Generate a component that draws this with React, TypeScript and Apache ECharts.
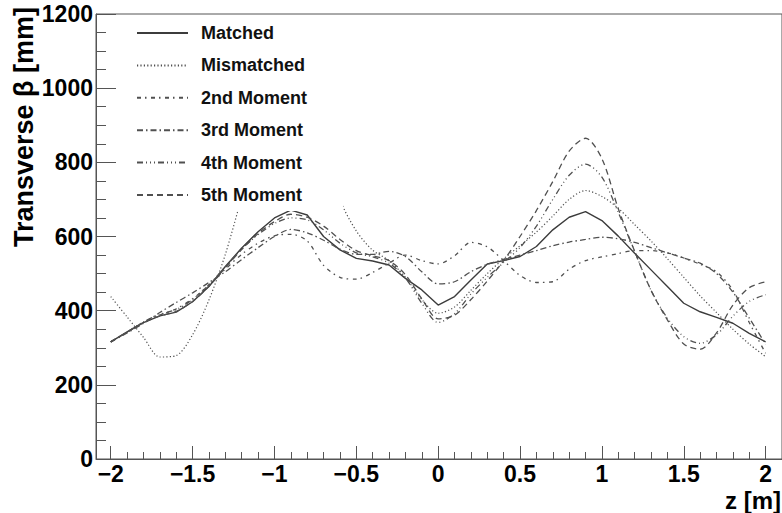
import React, { useEffect, useRef } from "react";
import * as echarts from "echarts";

const zValues = [
  -2.0, -1.9, -1.8, -1.7, -1.6, -1.5, -1.4, -1.3, -1.2, -1.1, -1.0, -0.9, -0.8, -0.7, -0.6, -0.5, -0.4, -0.3, -0.2, -0.1,
  0.0, 0.1, 0.2, 0.3, 0.4, 0.5, 0.6, 0.7, 0.8, 0.9, 1.0, 1.1, 1.2, 1.3, 1.4, 1.5, 1.6, 1.7, 1.8, 1.9, 2.0,
];

const matched = [
  316, 343, 368, 386, 396, 424, 465, 519, 569, 613, 650, 671, 658, 600, 564, 541, 534, 523, 487, 456,
  415, 438, 483, 526, 535, 546, 573, 618, 652, 667, 643, 601, 555, 510, 465, 420, 397, 382, 366, 339, 316,
];

const mismatched = [
  438, 383, 328, 275, 279, 335, 429, 552, 705, 850, 945, 985, 955, 860, 700, 615, 563, 535, 490, 430,
  393, 410, 455, 500, 540, 575, 612, 655, 700, 724, 708, 676, 632, 588, 540, 490, 440, 395, 350, 310, 276,
];

const moment2 = [
  316, 342, 368, 388, 405, 432, 470, 512, 552, 582, 602, 606, 588, 522, 490, 485, 503, 528, 550, 535,
  526, 548, 584, 572, 535, 495, 476, 478, 512, 535, 545, 554, 562, 562, 556, 542, 525, 505, 455, 368, 285,
];

const moment3 = [
  316, 340, 366, 395, 422, 448, 476, 505, 538, 570, 600, 619, 610, 590, 566, 552, 552, 560, 546, 505,
  472, 478, 505, 525, 538, 550, 562, 575, 585, 592, 598, 594, 584, 570, 556, 542, 528, 500, 450, 380, 310,
];

const moment4 = [
  316, 342, 370, 390, 403, 430, 470, 518, 566, 605, 635, 650, 645, 618, 582, 556, 545, 528, 488, 420,
  368, 392, 445, 490, 530, 570, 628, 700, 765, 795, 760, 665, 560, 455, 380, 330, 312, 335, 385, 425, 443,
];

const moment5 = [
  316, 342, 368, 386, 398, 425, 466, 516, 565, 608, 640, 660, 652, 628, 592, 562, 548, 535, 497, 432,
  378, 388, 430, 480, 535, 600, 670, 748, 830, 865, 810, 675, 560, 455, 375, 310, 296, 340, 415, 462, 478,
];

const seriesNames = ["Matched", "Mismatched", "2nd Moment", "3rd Moment", "4th Moment", "5th Moment"];
const majorX = [-2, -1.5, -1, -0.5, 0, 0.5, 1, 1.5, 2];
const minorX = [
  -2.0, -1.9, -1.8, -1.7, -1.6, -1.5, -1.4, -1.3, -1.2, -1.1, -1.0, -0.9, -0.8, -0.7, -0.6, -0.5, -0.4, -0.3, -0.2, -0.1,
  0.0, 0.1, 0.2, 0.3, 0.4, 0.5, 0.6, 0.7, 0.8, 0.9, 1.0, 1.1, 1.2, 1.3, 1.4, 1.5, 1.6, 1.7, 1.8, 1.9, 2.0,
];

const FONT = "'Liberation Sans', Arial, Helvetica, sans-serif";
const AXIS_COLOR = "#555";
const LINE_COLOR = "#505050";

function pairs(ys: number[]) {
  return zValues.map((z, i) => [z, ys[i]]);
}

export default function App() {
  const ref = useRef<HTMLDivElement>(null);
  useEffect(() => {
    if (!ref.current) return;
    const chart = echarts.init(ref.current, null, { renderer: "svg" });
    const fmt = (v: number) => (v < 0 ? "\u2212" + String(Math.abs(v)) : String(v));
    const mk = (name: string, ys: number[], type: any, width: number, color: string, smooth: any) => ({
      name,
      type: "line",
      data: pairs(ys),
      symbol: "none",
      smooth,
      lineStyle: { type, width, color },
      itemStyle: { color },
    });
    chart.setOption({
      animation: false,
      backgroundColor: "#fff",
      grid: {
        left: 96,
        top: 14,
        width: 689,
        height: 445,
        show: true,
        borderColor: AXIS_COLOR,
        borderWidth: 1,
        backgroundColor: "transparent",
      },
      legend: {
        orient: "vertical",
        left: 120,
        top: 15,
        data: seriesNames,
        itemWidth: 51,
        itemHeight: 16,
        itemGap: 14.4,
        backgroundColor: "#fff",
        padding: [9, 36, 7, 16],
        itemStyle: { opacity: 0 },
        textStyle: {
          fontFamily: FONT,
          fontWeight: "bold",
          fontSize: 18,
          color: "#111",
          lineHeight: 16,
          padding: [0, 0, 0, 8],
        },
      },
      xAxis: [
        {
          type: "value",
          min: -2.09,
          max: 2.1,
          position: "bottom",
          axisLine: { show: true, onZero: false, lineStyle: { color: AXIS_COLOR, width: 1 } },
          axisTick: { show: true, inside: true, length: 13, customValues: majorX, lineStyle: { color: AXIS_COLOR } },
          axisLabel: {
            show: true,
            customValues: majorX,
            formatter: fmt,
            margin: 3,
            fontFamily: FONT,
            fontWeight: "bold",
            fontSize: 23,
            color: "#000",
          },
          splitLine: { show: false },
        },
        {
          type: "value",
          min: -2.09,
          max: 2.1,
          position: "bottom",
          axisLine: { show: false, onZero: false },
          axisTick: { show: true, inside: true, length: 7, customValues: minorX, lineStyle: { color: AXIS_COLOR } },
          axisLabel: { show: false },
          splitLine: { show: false },
        },
      ],
      yAxis: {
        type: "value",
        min: 0,
        max: 1200,
        interval: 200,
        axisLine: { show: true, onZero: false, lineStyle: { color: AXIS_COLOR, width: 1 } },
        axisTick: { show: true, inside: true, length: 20, lineStyle: { color: AXIS_COLOR } },
        minorTick: { show: true, splitNumber: 4, length: 10, lineStyle: { color: AXIS_COLOR } },
        axisLabel: {
          margin: 3,
          formatter: (v: number) => String(v),
          fontFamily: FONT,
          fontWeight: "bold",
          fontSize: 23,
          color: "#000",
        },
        splitLine: { show: false },
        minorSplitLine: { show: false },
      },
      graphic: [
        {
          type: "text",
          x: 24,
          y: 7,
          rotation: Math.PI / 2,
          style: {
            text: "Transverse \u03b2 [mm]",
            font: `bold 27px ${FONT}`,
            fill: "#000",
            textAlign: "right",
            textVerticalAlign: "middle",
          },
        },
        {
          type: "text",
          x: 781,
          y: 500,
          style: {
            text: "z [m]",
            font: `bold 24px ${FONT}`,
            fill: "#000",
            textAlign: "right",
            textVerticalAlign: "middle",
          },
        },
      ],
      series: [
        mk("Matched", matched, "solid", 1.4, "#3c3c3c", false),
        mk("Mismatched", mismatched, [1.2, 2.2], 1.2, LINE_COLOR, 0.3),
        mk("2nd Moment", moment2, [4, 4, 1.5, 4.5], 1.3, LINE_COLOR, 0.3),
        mk("3rd Moment", moment3, [6, 3, 1.5, 3], 1.3, LINE_COLOR, 0.3),
        mk("4th Moment", moment4, [6, 3, 1, 3, 1, 3, 1, 3], 1.3, LINE_COLOR, 0.3),
        mk("5th Moment", moment5, [6, 4], 1.3, LINE_COLOR, 0.3),
      ],
    });
    return () => chart.dispose();
  }, []);
  return (
    <div
      ref={ref}
      style={{ position: "fixed", left: 0, top: 0, width: 782, height: 513, background: "#fff" }}
    />
  );
}
